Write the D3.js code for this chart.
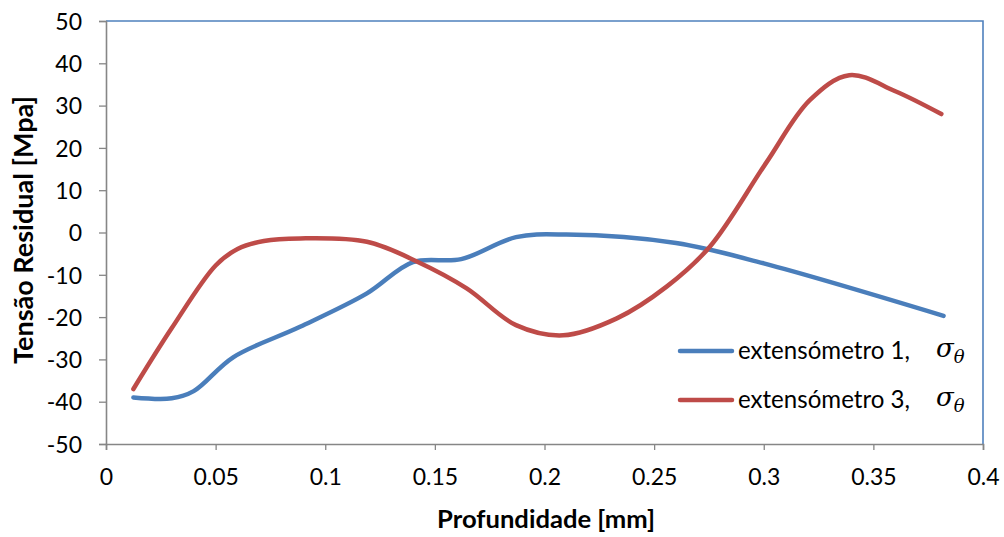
<!DOCTYPE html>
<html><head><meta charset="utf-8">
<script src="https://cdn.jsdelivr.net/npm/d3@7"></script>
<style>body{margin:0;background:#fff}svg{display:block}</style>
</head><body>
<svg id="c" width="1004" height="537"></svg>
<script>
const xTicks = [0,0.05,0.1,0.15,0.2,0.25,0.3,0.35,0.4];
const xTickLabels = ["0","0.05","0.1","0.15","0.2","0.25","0.3","0.35","0.4"];
const yTicks = [-50,-40,-30,-20,-10,0,10,20,30,40,50];
const seriesNames = ["extensómetro 1,", "extensómetro 3,"];
const blueX = [0.0125,0.03,0.04,0.058,0.0885,0.119,0.14,0.162,0.187,0.21,0.26,0.3,0.382];
const blueY = [-39,-39.2,-37.5,-29.5,-22.3,-14.4,-7,-6.3,-1.1,-0.5,-2.5,-7.3,-19.7];
const redX = [0.0125,0.03,0.05,0.06,0.072,0.0885,0.119,0.142,0.1645,0.187,0.2085,0.233,0.2557,0.2755,0.301,0.321,0.339,0.36,0.381];
const redY = [-37,-22.6,-7.8,-3.9,-2.0,-1.4,-2.2,-6.9,-13.2,-21.9,-24.3,-20.3,-12.8,-3.3,16.4,31.3,37.2,33.4,28];
const colors = ["#4a7ebb","#be4b48"];

const svg = d3.select("#c");
const L=106, R=983, T=21, B=444;
const x = d3.scaleLinear().domain([0,0.4]).range([L,R]);
const y = d3.scaleLinear().domain([-50,50]).range([B,T]);
const font = "Lato, 'Open Sans', sans-serif";

function fit(sel, w){
  const n = sel.node();
  const fs = parseFloat(sel.style("font-size"));
  const len = n.getComputedTextLength();
  sel.style("font-size", (fs*w/len).toFixed(2)+"px");
  return sel;
}

// frame top/right
svg.append("path").attr("d",`M${L},${T}H${R}V${B}`).attr("fill","none").attr("stroke","#4f81bd").attr("stroke-width",1.6);

// axes
const yAx = svg.append("g").attr("transform",`translate(${L},0)`)
  .call(d3.axisLeft(y).tickValues(yTicks).tickSize(7).tickPadding(17).tickFormat(d=>String(d)));
const xAx = svg.append("g").attr("transform",`translate(0,${B})`)
  .call(d3.axisBottom(x).tickValues(xTicks).tickSize(6).tickPadding(19).tickFormat((d,i)=>xTickLabels[i]));
[yAx,xAx].forEach(g=>{
  g.select(".domain").attr("stroke","#868686").attr("stroke-width",1.6);
  g.selectAll(".tick line").attr("stroke","#868686").attr("stroke-width",1.3);
  g.selectAll("text").attr("fill","#000").style("font-family",font).style("font-size","23px");
});
yAx.selectAll("text").attr("dy","0.36em");

// lines
const line = d3.line().x(d=>x(d[0])).y(d=>y(d[1])).curve(d3.curveCatmullRom.alpha(0.5));
[[blueX,blueY],[redX,redY]].forEach((s,i)=>{
  const pts = s[0].map((v,j)=>[v,s[1][j]]);
  svg.append("path").datum(pts).attr("d",line).attr("fill","none")
    .attr("stroke",colors[i]).attr("stroke-width",4.5).attr("stroke-linecap","round");
});

// titles
fit(svg.append("text").attr("x",546).attr("y",528).attr("text-anchor","middle")
  .style("font-family",font).style("font-size","20px").style("font-weight","bold").text("Profundidade [mm]"), 218);
fit(svg.append("text").attr("transform",`translate(33,230) rotate(-90)`).attr("text-anchor","middle")
  .style("font-family",font).style("font-size","20px").style("font-weight","bold").text("Tensão Residual [Mpa]"), 268);

// legend
const legY = [351,400];
seriesNames.forEach((n,i)=>{
  svg.append("line").attr("x1",680).attr("x2",732).attr("y1",legY[i]).attr("y2",legY[i])
    .attr("stroke",colors[i]).attr("stroke-width",4.5).attr("stroke-linecap","round");
  fit(svg.append("text").attr("x",738).attr("y",legY[i]+8).style("font-family",font).style("font-size","20px").text(n), 172);
  const t = svg.append("text").attr("x",936).attr("y",legY[i]+6).style("font-family","'DejaVu Serif', serif").style("font-style","italic").style("font-size","26px");
  t.append("tspan").text("σ");
  t.append("tspan").attr("dy",6).style("font-size","18px").text("θ");
});
</script>
</body></html>
